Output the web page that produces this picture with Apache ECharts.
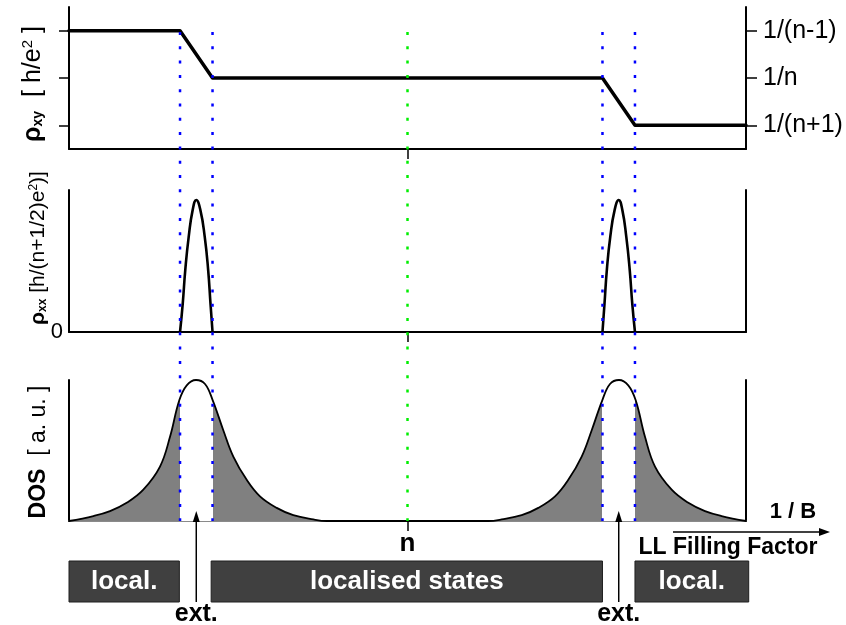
<!DOCTYPE html>
<html>
<head>
<meta charset="utf-8">
<script src="https://cdn.jsdelivr.net/npm/echarts@6/dist/echarts.min.js"></script>
<style>
  html, body { margin: 0; padding: 0; background: #fff; }
  #chart { width: 846px; height: 625px; }
</style>
</head>
<body>
<div id="chart"></div>
<script>
// Horizontal coordinate: sweep of 1/B (LL filling factor), 0..100, integer filling n in the middle
const xRange = [0, 100];
const nPosition = 50;
const mobilityEdges = [16.4, 21.2, 78.8, 83.6];      // borders of the extended-state windows
const extendedCentres = [18.8, 81.2];                 // centres of the Landau levels

// Hall resistivity plateaus: level 1 = 1/(n+1), 2 = 1/n, 3 = 1/(n-1)
const rhoXyLevels = [1, 2, 3];
const rhoXyLevelLabels = ['1/(n+1)', '1/n', '1/(n-1)'];
const rhoXyCurve = [[0, 3], [16.4, 3], [21.2, 2], [78.8, 2], [83.6, 1], [100, 1]];

// Longitudinal resistivity peaks
const rhoXxPeakLeft = [
  [16.4, 0], [16.8, 0.2], [17.18, 0.44], [17.68, 0.67], [18.27, 0.86], [18.8, 0.93],
  [19.4, 0.86], [20.05, 0.67], [20.55, 0.44], [20.9, 0.2], [21.2, 0]
];
const rhoXxPeakRight = [
  [78.8, 0], [79.1, 0.2], [79.45, 0.44], [79.95, 0.67], [80.6, 0.86], [81.2, 0.93],
  [81.73, 0.86], [82.32, 0.67], [82.82, 0.44], [83.2, 0.2], [83.6, 0]
];

// Density of states (arbitrary units)
const dosCurve = [
  [0, 0], [3.6, 0.035], [6.06, 0.07], [8.52, 0.129], [10.98, 0.222], [13.44, 0.386],
  [14.92, 0.597], [16.29, 0.856], [17.39, 0.962], [18.76, 1.0], [20.09, 0.972],
  [21.23, 0.856], [22.79, 0.644], [24.27, 0.457], [26.25, 0.292], [28.21, 0.175],
  [30.68, 0.093], [33.13, 0.041], [36.09, 0.011], [38.06, 0], [50, 0],
  [61.94, 0], [63.91, 0.011], [66.87, 0.041], [69.32, 0.093], [71.79, 0.175],
  [73.75, 0.292], [75.73, 0.457], [77.21, 0.644], [78.77, 0.856], [79.91, 0.972],
  [81.24, 1.0], [82.61, 0.962], [83.71, 0.856], [85.08, 0.597], [86.56, 0.386],
  [89.02, 0.222], [91.48, 0.129], [93.94, 0.07], [96.4, 0.035], [100, 0]
];

// Localised-state bands drawn under the axis
const bandRanges = [[0, 16.3], [21.0, 78.8], [83.6, 100.4]];
const bandLabels = ['local.', 'localised states', 'local.'];
const extLabel = 'ext.';

const FONT = '"Liberation Sans", Arial, Helvetica, sans-serif';
const BLACK = '#000';

const chart = echarts.init(document.getElementById('chart'), null, { renderer: 'canvas' });

const gridBase = { left: 69, right: 100, containLabel: false };
const grids = [
  Object.assign({ top: 7, height: 142 }, gridBase),    // rho_xy
  Object.assign({ top: 190, height: 142 }, gridBase),  // rho_xx
  Object.assign({ top: 380, height: 141 }, gridBase),  // DOS
  Object.assign({ top: 32, height: 489 }, gridBase),   // vertical guide lines
  Object.assign({ top: 500, height: 125 }, gridBase)   // band annotations
];

function plainX(gridIndex, opts) {
  return Object.assign({
    type: 'value', gridIndex, min: xRange[0], max: xRange[1],
    axisLine: { show: true, onZero: false, lineStyle: { color: BLACK, width: 2 } },
    axisTick: { show: true, customValues: [nPosition], length: 10, lineStyle: { color: BLACK, width: 1.5 } },
    axisLabel: { show: false },
    splitLine: { show: false }
  }, opts || {});
}
function sideY(gridIndex, position, min, max, opts) {
  return Object.assign({
    type: 'value', gridIndex, position, min, max,
    axisLine: { show: true, onZero: false, lineStyle: { color: BLACK, width: 2 } },
    axisTick: { show: false },
    axisLabel: { show: false },
    splitLine: { show: false }
  }, opts || {});
}
const hiddenX = (gridIndex) => ({ type: 'value', gridIndex, min: xRange[0], max: xRange[1], show: false });
const hiddenY = (gridIndex) => ({ type: 'value', gridIndex, min: 0, max: 1, show: false });

const xAxes = [
  plainX(0),
  plainX(1),
  plainX(2, {
    axisLine: { show: true, onZero: false, lineStyle: { color: '#8a8a8a', width: 2 } },
    axisLabel: {
      show: true, customValues: [nPosition], formatter: () => 'n',
      color: BLACK, fontFamily: FONT, fontWeight: 'bold', fontSize: 26, margin: 10
    }
  }),
  hiddenX(3),
  hiddenX(4)
];

const yAxes = [
  sideY(0, 'left', 0.5, 3.5, {
    axisTick: { show: true, customValues: rhoXyLevels, length: 10, lineStyle: { color: BLACK, width: 1.5 } }
  }),
  sideY(0, 'right', 0.5, 3.5, {
    axisTick: { show: true, customValues: rhoXyLevels, length: 11, lineStyle: { color: BLACK, width: 1.5 } },
    axisLabel: {
      show: true, customValues: rhoXyLevels,
      formatter: (v) => rhoXyLevelLabels[rhoXyLevels.indexOf(Math.round(v))] || '',
      color: BLACK, fontFamily: FONT, fontSize: 25, margin: 17
    }
  }),
  sideY(1, 'left', 0, 1, {
    axisLabel: {
      show: true, customValues: [0], formatter: () => '0',
      color: BLACK, fontFamily: FONT, fontSize: 22, margin: 6
    }
  }),
  sideY(1, 'right', 0, 1),
  sideY(2, 'left', 0, 1),
  sideY(2, 'right', 0, 1),
  hiddenY(3),
  hiddenY(4)
];

const curveLine = (color, width) => ({ color, width, cap: 'round', join: 'round' });

const guideSeries = [];
mobilityEdges.forEach((x) => guideSeries.push({ x, color: '#0000ff' }));
guideSeries.push({ x: nPosition, color: '#00ee00' });

const series = [
  {
    name: 'rho_xy', type: 'line', xAxisIndex: 0, yAxisIndex: 0,
    data: rhoXyCurve, showSymbol: false, symbol: 'none',
    lineStyle: curveLine(BLACK, 3.5), z: 3
  },
  {
    name: 'rho_xx left', type: 'line', xAxisIndex: 1, yAxisIndex: 2,
    data: rhoXxPeakLeft, smooth: 0.5, symbol: 'none',
    lineStyle: curveLine(BLACK, 2.6), z: 3
  },
  {
    name: 'rho_xx right', type: 'line', xAxisIndex: 1, yAxisIndex: 2,
    data: rhoXxPeakRight, smooth: 0.5, symbol: 'none',
    lineStyle: curveLine(BLACK, 2.6), z: 3
  },
  {
    name: 'DOS fill', type: 'line', xAxisIndex: 2, yAxisIndex: 4,
    data: dosCurve, smooth: 0.4, symbol: 'none',
    lineStyle: { width: 0 }, areaStyle: { opacity: 1 }, z: 2
  },
  {
    name: 'DOS', type: 'line', xAxisIndex: 2, yAxisIndex: 4,
    data: dosCurve, smooth: 0.4, symbol: 'none',
    lineStyle: curveLine(BLACK, 1.8), z: 3
  }
];

guideSeries.forEach((g) => {
  series.push({
    type: 'line', xAxisIndex: 3, yAxisIndex: 6,
    data: [[g.x, 1], [g.x, 0]], symbol: 'none', silent: true,
    lineStyle: { color: g.color, width: 2.5, type: [3, 11.3], cap: 'butt' }, z: 5
  });
});

// Dark boxes marking the localised regions
series.push({
  type: 'custom', xAxisIndex: 4, yAxisIndex: 7, clip: false, z: 4,
  data: bandRanges,
  renderItem(params, api) {
    const x0 = api.coord([api.value(0), 0])[0];
    const x1 = api.coord([api.value(1), 0])[0];
    return {
      type: 'group',
      children: [
        { type: 'rect', shape: { x: x0, y: 561, width: x1 - x0, height: 41 },
          style: { fill: '#404040', stroke: '#1e1e1e', lineWidth: 1 } },
        { type: 'text', x: (x0 + x1) / 2, y: 582,
          style: { text: bandLabels[params.dataIndex], fill: '#fff',
                   font: 'bold 26px ' + FONT, align: 'center', verticalAlign: 'middle',
                   textAlign: 'center', textVerticalAlign: 'middle' } }
      ]
    };
  }
});

// Arrows pointing at the extended states
series.push({
  type: 'custom', xAxisIndex: 4, yAxisIndex: 7, clip: false, z: 4,
  data: extendedCentres.map((x) => [x]),
  renderItem(params, api) {
    const x = api.coord([api.value(0), 0])[0];
    return {
      type: 'group',
      children: [
        { type: 'line', shape: { x1: x, y1: 602, x2: x, y2: 519 },
          style: { stroke: BLACK, lineWidth: 1.5 } },
        { type: 'polygon', shape: { points: [[x, 511], [x - 3.5, 522], [x + 3.5, 522]] },
          style: { fill: BLACK } },
        { type: 'text', x: x, y: 614,
          style: { text: extLabel, fill: BLACK, font: 'bold 25px ' + FONT,
                   align: 'center', verticalAlign: 'middle',
                   textAlign: 'center', textVerticalAlign: 'middle' } }
      ]
    };
  }
});

const sub = (size, bold) => ({ fontFamily: FONT, fontSize: size, fontWeight: bold ? 'bold' : 'normal', color: BLACK });

const graphic = [
  {
    type: 'text', x: 33, y: 84, rotation: Math.PI / 2,
    style: {
      text: '{b|ρ}{bs|xy}{n|  [ h/e}{sup|2}{n| ]}',
      align: 'center', verticalAlign: 'middle', textAlign: 'center', textVerticalAlign: 'middle',
      rich: {
        b: sub(25, true),
        bs: Object.assign(sub(14, true), { verticalAlign: 'bottom' }),
        n: sub(25, false),
        sup: Object.assign(sub(15, false), { verticalAlign: 'top' })
      }
    }
  },
  {
    type: 'text', x: 38, y: 248, rotation: Math.PI / 2,
    style: {
      text: '{b|ρ}{bs|xx}{n| [h/(n+1/2)e}{sup|2}{n|)]}',
      align: 'center', verticalAlign: 'middle', textAlign: 'center', textVerticalAlign: 'middle',
      rich: {
        b: sub(21, true),
        bs: Object.assign(sub(12, true), { verticalAlign: 'bottom' }),
        n: sub(21, false),
        sup: Object.assign(sub(12, false), { verticalAlign: 'top' })
      }
    }
  },
  {
    type: 'text', x: 39, y: 452, rotation: Math.PI / 2,
    style: {
      text: '{b|DOS}{n|  [ a. u. ]}',
      align: 'center', verticalAlign: 'middle', textAlign: 'center', textVerticalAlign: 'middle',
      rich: { b: sub(23, true), n: sub(23, false) }
    }
  },
  {
    type: 'text', x: 793, y: 512,
    style: { text: '1 / B', font: 'bold 22px ' + FONT, fill: BLACK,
             align: 'center', verticalAlign: 'middle', textAlign: 'center', textVerticalAlign: 'middle' }
  },
  {
    type: 'polyline', shape: { points: [[673, 532], [822, 532]] },
    style: { stroke: BLACK, lineWidth: 1.5 }
  },
  {
    type: 'polygon', shape: { points: [[830, 532], [819, 528], [819, 536]] },
    style: { fill: BLACK }
  },
  {
    type: 'text', x: 728, y: 548,
    style: { text: 'LL Filling Factor', font: 'bold 23px ' + FONT, fill: BLACK,
             align: 'center', verticalAlign: 'middle', textAlign: 'center', textVerticalAlign: 'middle' }
  }
];

chart.setOption({
  animation: false,
  backgroundColor: '#fff',
  grid: grids,
  xAxis: xAxes,
  yAxis: yAxes,
  visualMap: {
    type: 'piecewise', show: false, seriesIndex: 3, dimension: 0,
    pieces: [
      { lt: mobilityEdges[0], color: '#808080' },
      { gte: mobilityEdges[0], lt: mobilityEdges[1], color: '#ffffff' },
      { gte: mobilityEdges[1], lt: mobilityEdges[2], color: '#808080' },
      { gte: mobilityEdges[2], lt: mobilityEdges[3], color: '#ffffff' },
      { gte: mobilityEdges[3], color: '#808080' }
    ]
  },
  series,
  graphic
});
</script>
</body>
</html>
